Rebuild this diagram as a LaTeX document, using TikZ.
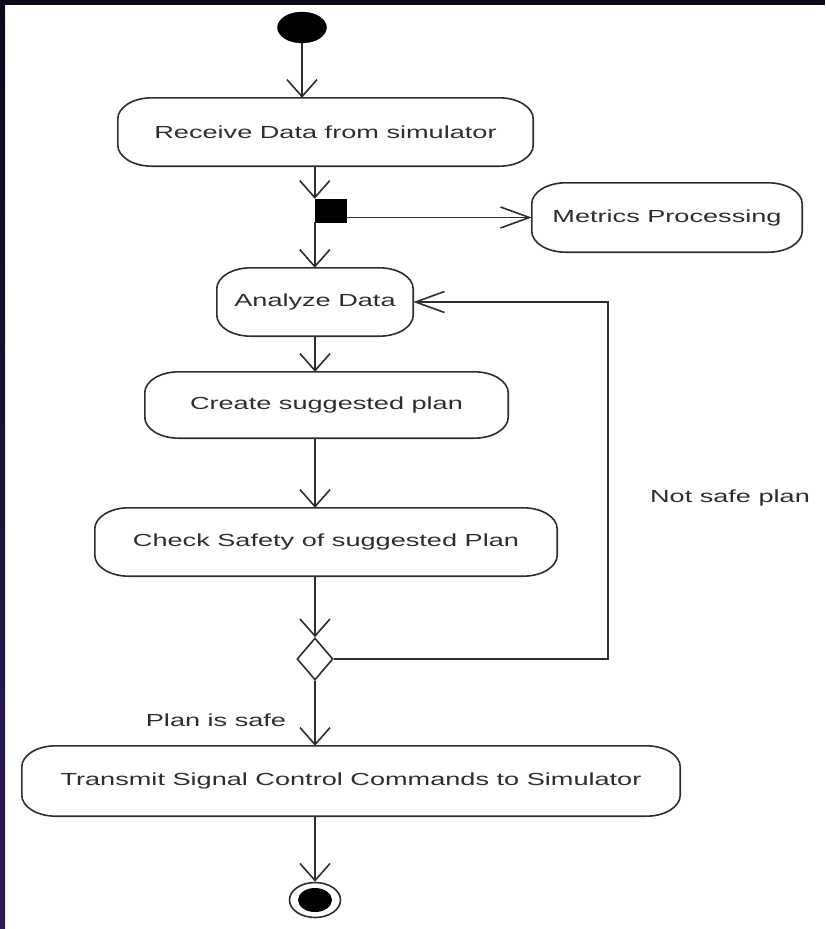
\documentclass[tikz,border=0pt]{standalone}
\usepackage{fontspec}
\setmainfont{Liberation Sans}
\usetikzlibrary{arrows.meta,shapes.geometric}
\definecolor{ink}{HTML}{2E2E2E}
\definecolor{navyband}{RGB}{10,10,28}
\definecolor{violetband}{RGB}{46,26,92}
\newcommand\wt[1]{\scalebox{1.55}[1]{#1}}
% \rbox{name}{cx}{cy}{width}{height}{text}
\newcommand\rbox[6]{%
  \node[box, minimum width=#4pt, minimum height=#5pt] (#1) at (#2,#3) {\wt{#6}};
  \draw[line] ([xshift=34pt]#1.north west) -- ([xshift=-34pt]#1.north east)
    arc[start angle=90, end angle=0, x radius=34pt, y radius=21pt]
    -- ([yshift=21pt]#1.south east)
    arc[start angle=0, end angle=-90, x radius=34pt, y radius=21pt]
    -- ([xshift=34pt]#1.south west)
    arc[start angle=270, end angle=180, x radius=34pt, y radius=21pt]
    -- ([yshift=-21pt]#1.north west)
    arc[start angle=180, end angle=90, x radius=34pt, y radius=21pt]
    -- cycle;%
}
\tikzset{
  line/.style={draw=ink, line width=1.6pt},
  varr/.style={line, -{Straight Barb[length=17pt,width=30pt]}},
  harr/.style={line, -{Straight Barb[length=29pt,width=21pt]}},
  box/.style={inner sep=0pt, text=ink, font=\fontsize{17.5}{21}\selectfont},
  lbl/.style={inner sep=0pt, text=ink, font=\fontsize{17.5}{21}\selectfont},
}
\begin{document}
\begin{tikzpicture}[x=1pt, y=-1pt]
\useasboundingbox (0,0) rectangle (825,929);
\fill[white] (0,0) rectangle (825,929);
\fill[navyband] (0,0) rectangle (825,5);
\shade[top color=navyband, bottom color=violetband] (0,0) rectangle (5,929);

% start / end
\node[ellipse, fill=black, draw=black, inner sep=0pt, minimum width=49pt, minimum height=31pt] (start) at (302,27.5) {};
\node[ellipse, draw=ink, line width=1.6pt, inner sep=0pt, minimum width=51pt, minimum height=35pt] (end) at (315,900) {};
\node[ellipse, fill=black, inner sep=0pt, minimum width=34pt, minimum height=24pt] (endin) at (315,900) {};

% activities
\rbox{recv}{325.5}{132}{415}{68}{Receive Data from simulator}
\rbox{metrics}{667}{217.5}{270}{69}{Metrics Processing}
\rbox{ana}{315}{302}{196}{68}{Analyze Data}
\rbox{create}{326.5}{405}{363}{66}{Create suggested plan}
\rbox{check}{326}{542}{462}{68}{Check Safety of suggested Plan}
\rbox{trans}{351}{781}{658}{70}{Transmit Signal Control Commands to Simulator}

% fork bar and decision
\node[fill=black, draw=black, inner sep=0pt, minimum width=31pt, minimum height=23pt] (fork) at (330.5,210.5) {};
\node[diamond, draw=ink, line width=1.6pt, fill=white, inner sep=0pt, minimum width=36pt, minimum height=42pt] (dec) at (315,659) {};

% labels
\node[lbl] (notsafe) at (730,498) {\wt{Not safe plan}};
\node[lbl] (safe) at (216,720) {\wt{Plan is safe}};

% connectors
\draw[varr] (start) -- (start |- recv.north);
\draw[varr] (recv.south -| fork.west) -- (fork.north west);
\draw[harr] (fork.east |- metrics.west) -- (metrics.west);
\draw[varr] (fork.south west) -- (fork.south west |- ana.north);
\draw[varr] (ana.south) -- (ana.south |- create.north);
\draw[varr] (ana.south |- create.south) -- (ana.south |- check.north);
\draw[varr] (ana.south |- check.south) -- (dec.north);
\draw[varr] (dec.south) -- (dec.south |- trans.north);
\draw[varr] (dec.south |- trans.south) -- (end.north);
\coordinate (loop) at (608,302);
\draw[harr] (dec.east) -| (loop) -- (ana.east);
\end{tikzpicture}
\end{document}
